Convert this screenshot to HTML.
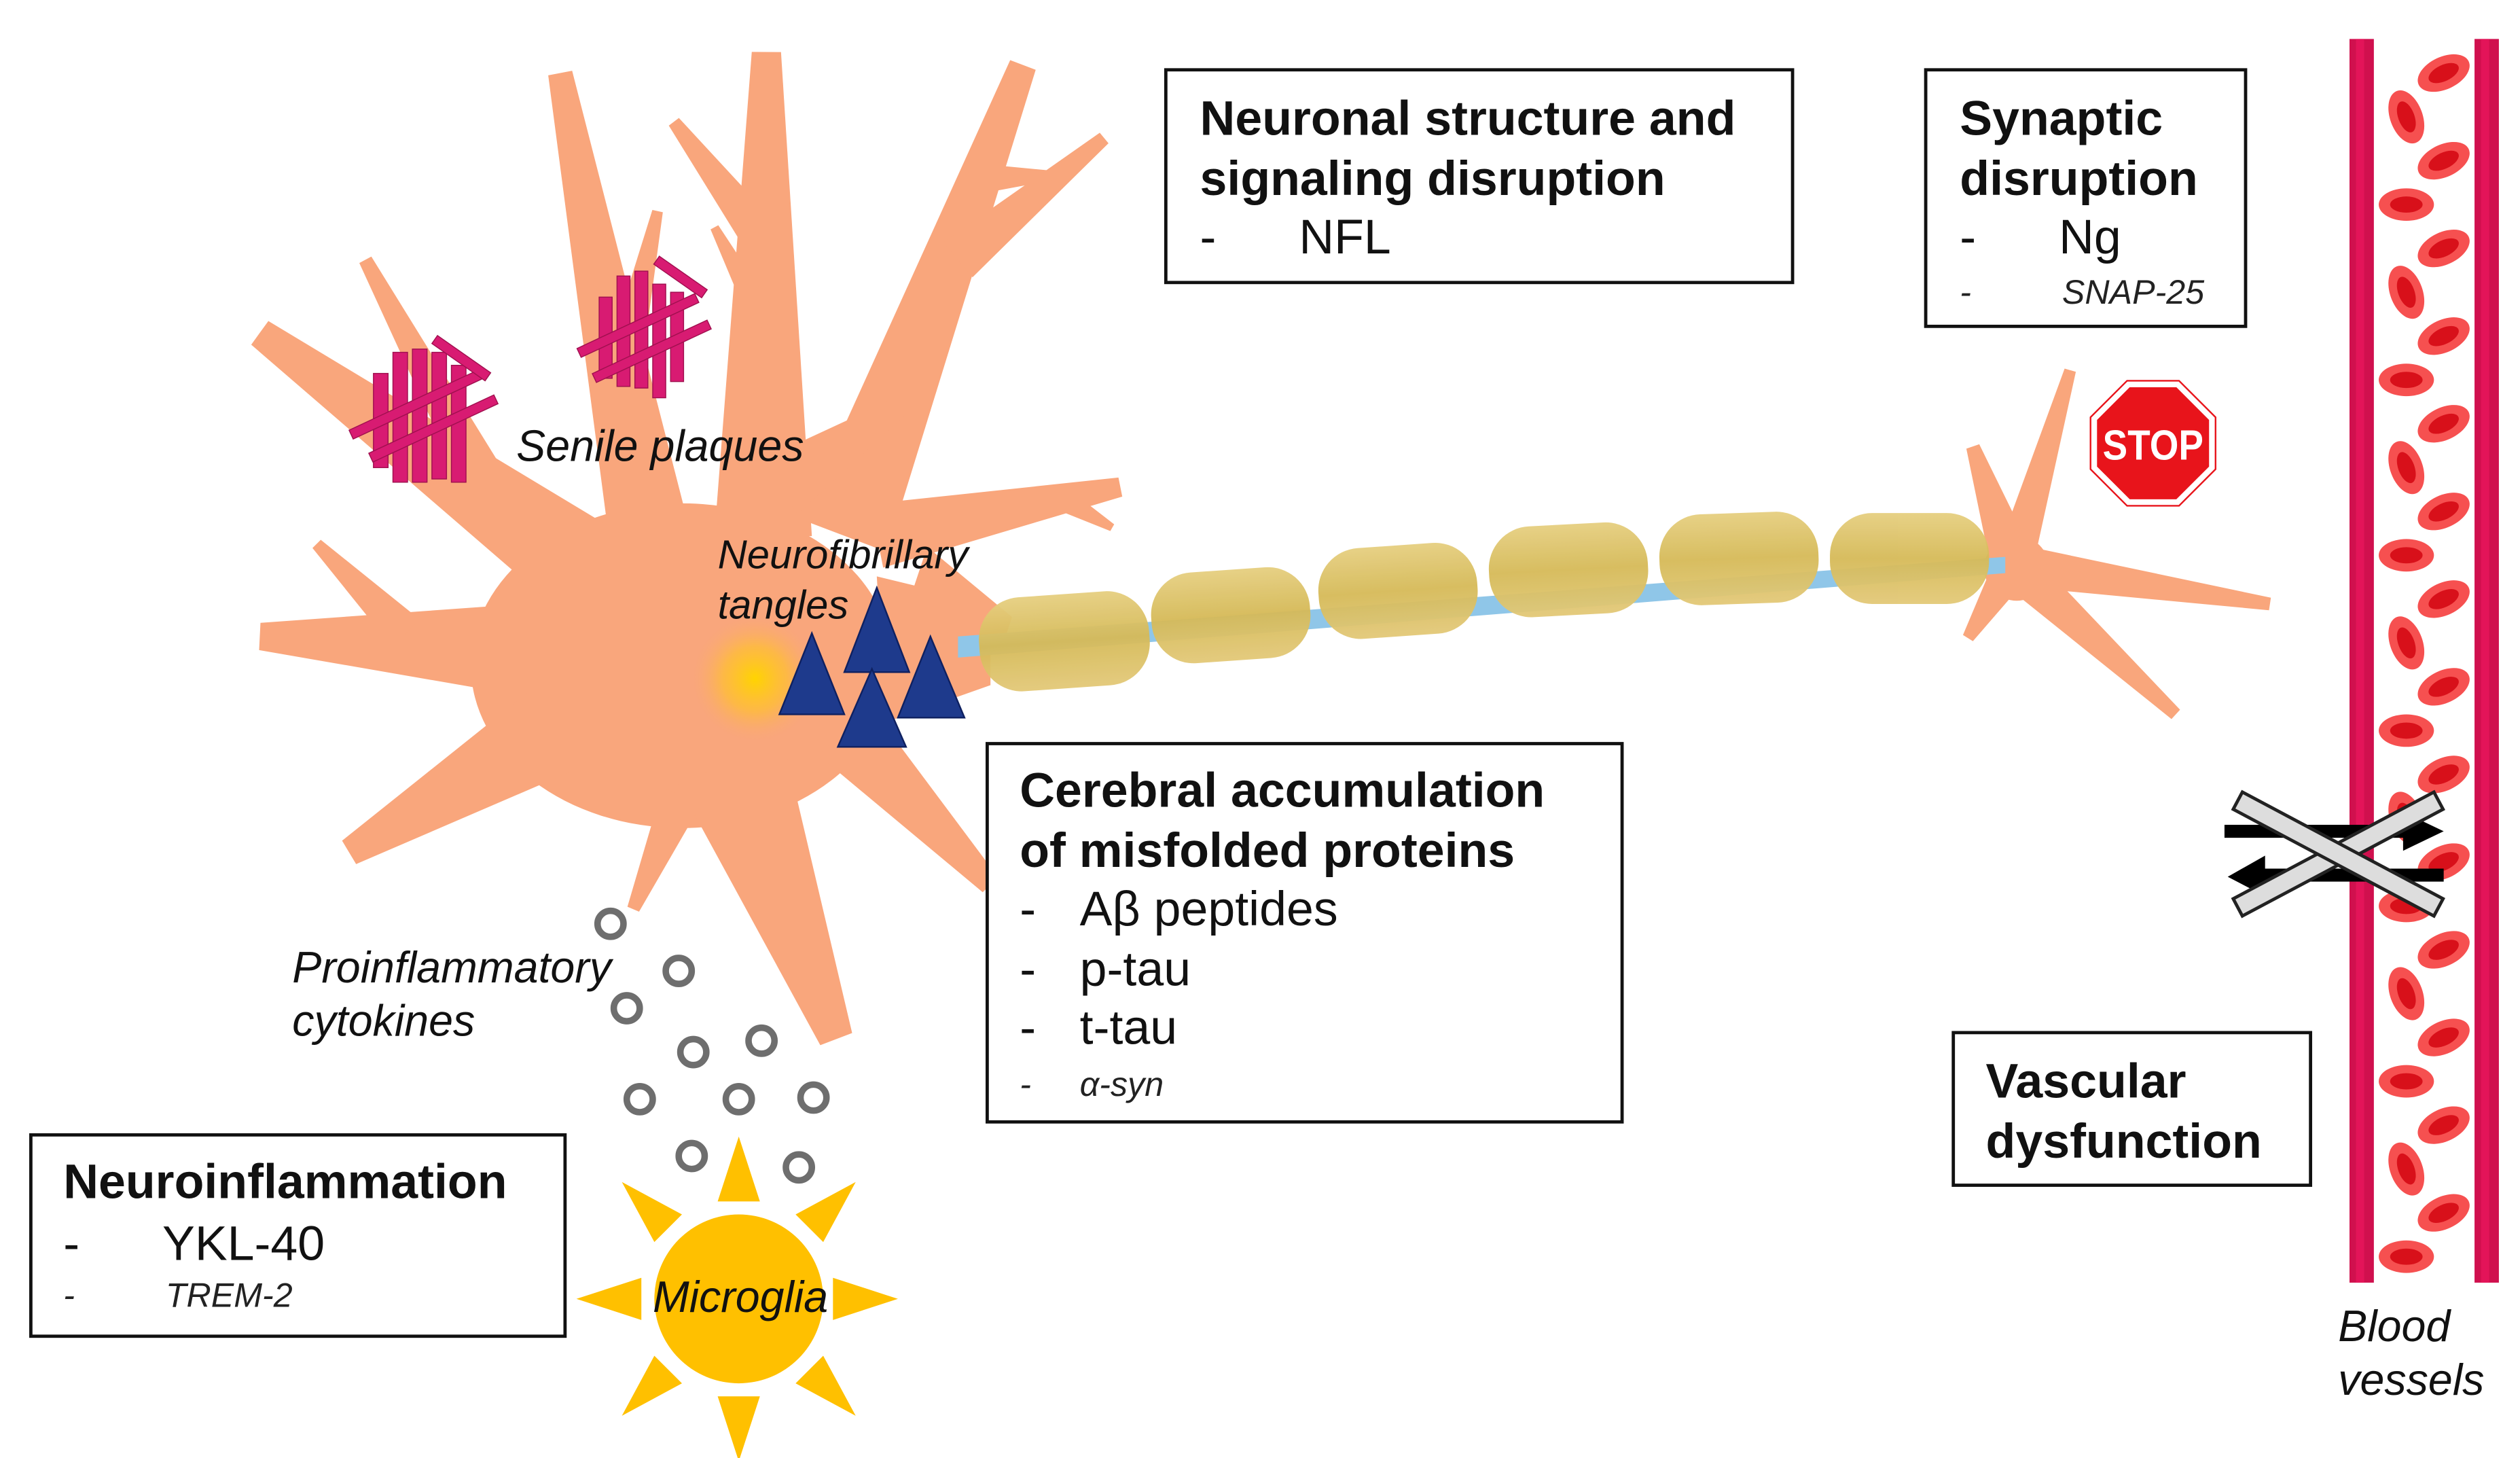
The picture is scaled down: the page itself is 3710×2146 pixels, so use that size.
<!DOCTYPE html>
<html><head><meta charset="utf-8"><style>
html,body{margin:0;padding:0;background:#fff;}
svg{display:block;}
text{font-family:"Liberation Sans",Arial,sans-serif;}
.b{font-weight:bold;font-size:30px;fill:#111;}
.r{font-size:30px;fill:#111;}
.s{font-size:21px;font-style:italic;fill:#222;}
.i{font-size:27px;font-style:italic;fill:#111;}
</style></head><body>
<svg id="svg" width="3710" height="2146" viewBox="0 0 1552 898" preserveAspectRatio="none" xmlns="http://www.w3.org/2000/svg">
<defs>
<radialGradient id="glow"><stop offset="0" stop-color="#FFD400"/><stop offset="0.5" stop-color="#FFC030" stop-opacity="0.7"/><stop offset="1" stop-color="#F9A77C" stop-opacity="0"/></radialGradient>
<linearGradient id="seg" x1="0" y1="0" x2="0" y2="1"><stop offset="0" stop-color="#E6CF80"/><stop offset="0.5" stop-color="#D6BA58"/><stop offset="1" stop-color="#E3C978"/></linearGradient>
</defs>
<g id="neuron" fill="#F9A67C"></g>
<path d="M590,392 L1235,343 L1235,353 L590,405 Z" fill="#8FC6E8"/>
<g fill="url(#seg)" opacity="0.95">
<rect x="603" y="366" width="105" height="58" rx="26" transform="rotate(-4 655 395)"/>
<rect x="709" y="351" width="98" height="56" rx="26" transform="rotate(-4 757 379)"/>
<rect x="812" y="336" width="98" height="56" rx="26" transform="rotate(-4 860 364)"/>
<rect x="917" y="323" width="98" height="56" rx="26" transform="rotate(-3 965 351)"/>
<rect x="1022" y="316" width="98" height="56" rx="26" transform="rotate(-2 1070 344)"/>
<rect x="1127" y="316" width="98" height="56" rx="26"/>
</g>
<circle cx="465" cy="418" r="40" fill="url(#glow)"/>
<g fill="#D81B72" stroke="#A0104F" stroke-width="0.6">
<g transform="translate(260,255)">
<rect x="-30" y="-25" width="9" height="58"/><rect x="-18" y="-38" width="9" height="80"/><rect x="-6" y="-40" width="9" height="82"/><rect x="6" y="-38" width="9" height="78"/><rect x="18" y="-30" width="9" height="72"/>
<rect x="-45" y="-10" width="90" height="6" transform="rotate(-25)"/><rect x="-40" y="8" width="85" height="6" transform="rotate(-25)"/><rect x="-20" y="-45" width="40" height="6" transform="rotate(35)"/>
</g>
<g transform="translate(395,205)">
<rect x="-26" y="-22" width="8" height="50"/><rect x="-15" y="-35" width="8" height="68"/><rect x="-4" y="-38" width="8" height="72"/><rect x="7" y="-30" width="8" height="70"/><rect x="18" y="-25" width="8" height="55"/>
<rect x="-40" y="-8" width="80" height="6" transform="rotate(-25)"/><rect x="-38" y="10" width="78" height="6" transform="rotate(-25)"/><rect x="-18" y="-45" width="36" height="6" transform="rotate(35)"/>
</g>
</g>
<g fill="#1E3A8C" stroke="#0E2060" stroke-width="1">
<polygon points="500,390 480,440 520,440"/>
<polygon points="540,362 520,414 560,414"/>
<polygon points="573,392 553,442 594,442"/>
<polygon points="537,412 516,460 558,460"/>
</g>
<g transform="translate(1326,273)">
<polygon points="-15,-36 15,-36 36,-15 36,15 15,36 -15,36 -36,15 -36,-15" fill="#E8141B" stroke="#fff" stroke-width="3"/>
<polygon points="-16,-38.5 16,-38.5 38.5,-16 38.5,16 16,38.5 -16,38.5 -38.5,16 -38.5,-16" fill="none" stroke="#E8141B" stroke-width="1"/>
<text x="0" y="10" text-anchor="middle" font-size="26" font-weight="bold" fill="#fff" textLength="62" lengthAdjust="spacingAndGlyphs">STOP</text>
</g>
<rect x="1447" y="24" width="15" height="766" fill="#D0104E"/>
<rect x="1524" y="24" width="15" height="766" fill="#D0104E"/>
<rect x="1451" y="24" width="5" height="766" fill="#F01860" opacity="0.6"/>
<rect x="1528" y="24" width="5" height="766" fill="#F01860" opacity="0.6"/>
<g id="rbc"></g>
<g>
<polygon points="1370,508 1480,508 1480,500 1505,512 1480,524 1480,516 1370,516" fill="#000"/>
<polygon points="1505,535 1395,535 1395,527 1372,540 1395,552 1395,543 1505,543" fill="#000"/>
<rect x="1370" y="520" width="140" height="12" fill="#ddd" stroke="#222" stroke-width="2" transform="rotate(-28 1440 526)"/>
<rect x="1370" y="520" width="140" height="12" fill="#ddd" stroke="#222" stroke-width="2" transform="rotate(28 1440 526)"/>
</g>
<g fill="#fff" stroke="#6E6E6E" stroke-width="4">
<circle cx="376" cy="569" r="8"/><circle cx="418" cy="598" r="8"/><circle cx="386" cy="621" r="8"/>
<circle cx="427" cy="648" r="8"/><circle cx="469" cy="641" r="8"/><circle cx="394" cy="677" r="8"/>
<circle cx="455" cy="677" r="8"/><circle cx="501" cy="676" r="8"/><circle cx="426" cy="712" r="8"/><circle cx="492" cy="719" r="8"/>
</g>
<g fill="#FFC000">
<circle cx="455" cy="800" r="52"/>
<polygon points="455,700 442,740 468,740"/>
<polygon points="455,900 442,860 468,860"/>
<polygon points="355,800 395,787 395,813"/>
<polygon points="553,800 513,787 513,813"/>
<polygon points="383,728 420,748 403,765"/>
<polygon points="527,728 490,748 507,765"/>
<polygon points="383,872 420,852 403,835"/>
<polygon points="527,872 490,852 507,835"/>
</g>
<text class="i" x="318" y="284">Senile plaques</text>
<text class="i" x="442" y="350" style="font-size:25px">Neurofibrillary</text>
<text class="i" x="442" y="381" style="font-size:25px">tangles</text>
<text class="i" x="180" y="605">Proinflammatory</text>
<text class="i" x="180" y="638">cytokines</text>
<text class="i" x="402" y="808">Microglia</text>
<text class="i" x="1440" y="826">Blood</text>
<text class="i" x="1440" y="859">vessels</text>
<g fill="#fff" stroke="#111" stroke-width="2">
<rect x="718" y="43" width="386" height="131"/>
<rect x="1186" y="43" width="197" height="158"/>
<rect x="608" y="458" width="391" height="233"/>
<rect x="1203" y="636" width="220" height="94"/>
<rect x="19" y="699" width="329" height="124"/>
</g>
<text class="b" x="739" y="83">Neuronal structure and</text>
<text class="b" x="739" y="120">signaling disruption</text>
<text class="r" x="739" y="156">-</text><text class="r" x="800" y="156">NFL</text>
<text class="b" x="1207" y="83">Synaptic</text>
<text class="b" x="1207" y="120">disruption</text>
<text class="r" x="1207" y="156">-</text><text class="r" x="1268" y="156">Ng</text>
<text class="s" x="1207" y="187">-</text><text class="s" x="1270" y="187">SNAP-25</text>
<text class="b" x="628" y="497">Cerebral accumulation</text>
<text class="b" x="628" y="534">of misfolded proteins</text>
<text class="r" x="628" y="570">-</text><text class="r" x="665" y="570">Aβ peptides</text>
<text class="r" x="628" y="607">-</text><text class="r" x="665" y="607">p-tau</text>
<text class="r" x="628" y="643">-</text><text class="r" x="665" y="643">t-tau</text>
<text class="s" x="628" y="675">-</text><text class="s" x="665" y="675">α-syn</text>
<text class="b" x="1223" y="676">Vascular</text>
<text class="b" x="1223" y="713">dysfunction</text>
<text class="b" x="39" y="738">Neuroinflammation</text>
<text class="r" x="39" y="776">-</text><text class="r" x="100" y="776">YKL-40</text>
<text class="s" x="39" y="805">-</text><text class="s" x="102" y="805">TREM-2</text>
</svg>
<script>
var NS="http://www.w3.org/2000/svg";
var g=document.getElementById("neuron");
function poly(pts){var p=document.createElementNS(NS,"polygon");p.setAttribute("points",pts.map(function(a){return a.join(",")}).join(" "));g.appendChild(p);}
function den(ax,ay,bx,by,w){var dx=bx-ax,dy=by-ay,l=Math.sqrt(dx*dx+dy*dy),px=-dy/l*w/2,py=dx/l*w/2;
poly([[ax+px,ay+py],[bx+px*0.3,by+py*0.3],[bx-px*0.3,by-py*0.3],[ax-px,ay-py]]);}
var e=document.createElementNS(NS,"ellipse");e.setAttribute("cx",420);e.setAttribute("cy",410);e.setAttribute("rx",130);e.setAttribute("ry",100);g.appendChild(e);
var D=[[470,330,472,32,60],[472,150,415,75,26],[472,200,440,140,18],[400,330,345,45,50],[385,220,405,130,22],
[360,350,160,205,60],[300,300,225,160,28],[320,400,160,392,56],[250,390,195,335,24],[340,450,215,525,56],
[450,470,515,640,70],[420,490,390,560,26],[520,330,630,40,56],[590,160,680,85,28],[605,110,650,108,18],
[540,330,690,300,40],[650,305,685,325,16],[520,450,610,545,44],[560,370,620,390,70],[480,300,555,250,40],
[1240,348,1275,228,24],[1240,348,1215,275,28],[1240,348,1398,372,26],[1240,348,1340,440,26],[1240,348,1212,393,24]];
D.forEach(function(d){den(d[0],d[1],d[2],d[3],d[4]);});
poly([[540,355],[610,372],[610,422],[545,445]]);
var c=document.createElementNS(NS,"circle");c.setAttribute("cx",1242);c.setAttribute("cy",350);c.setAttribute("r",20);g.appendChild(c);
var r=document.getElementById("rbc");var s="";
for(var y=45,k=0;y<790;y+=27,k++){var x=(k%2)?1482:1505;var rot=(k%4==1)?70:(k%2?0:-25);
s+='<g transform="translate('+x+','+y+') rotate('+rot+')"><ellipse rx="17" ry="10" fill="#F65050"/><ellipse rx="10" ry="5" fill="#D8101A"/></g>';}
r.innerHTML=s;
</script>
</body></html>
